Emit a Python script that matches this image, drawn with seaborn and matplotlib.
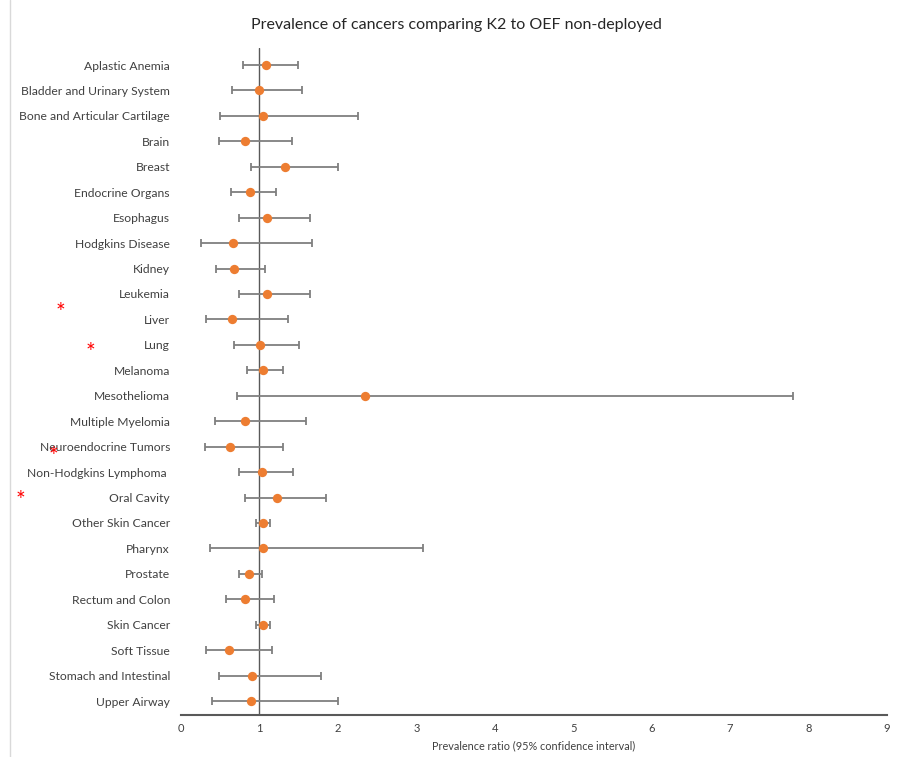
import matplotlib
matplotlib.use("Agg")
import matplotlib.pyplot as plt
import seaborn as sns
import pandas as pd
from matplotlib.lines import Line2D

categories = ["Aplastic Anemia", "Bladder and Urinary System", "Bone and Articular Cartilage",
              "Brain", "Breast", "Endocrine Organs", "Esophagus", "Hodgkins Disease", "Kidney",
              "Leukemia", "Liver", "Lung", "Melanoma", "Mesothelioma", "Multiple Myelomia",
              "Neuroendocrine Tumors", "Non-Hodgkins Lymphoma ", "Oral Cavity", "Other Skin Cancer",
              "Pharynx", "Prostate", "Rectum and Colon", "Skin Cancer", "Soft Tissue",
              "Stomach and Intestinal", "Upper Airway"]
ratio = [1.08, 1.00, 1.05, 0.82, 1.33, 0.88, 1.10, 0.66, 0.68,
         1.10, 0.65, 1.01, 1.05, 2.35, 0.82, 0.62, 1.03, 1.22, 1.05,
         1.05, 0.87, 0.82, 1.05, 0.61, 0.91, 0.89]
lower = [0.79, 0.65, 0.50, 0.48, 0.89, 0.64, 0.74, 0.26, 0.44,
         0.74, 0.32, 0.68, 0.84, 0.71, 0.43, 0.30, 0.74, 0.81, 0.96,
         0.37, 0.74, 0.58, 0.96, 0.32, 0.48, 0.40]
upper = [1.49, 1.54, 2.26, 1.41, 2.00, 1.21, 1.65, 1.67, 1.07,
         1.64, 1.36, 1.50, 1.30, 7.80, 1.59, 1.30, 1.43, 1.85, 1.13,
         3.09, 1.03, 1.18, 1.13, 1.16, 1.79, 2.00]
xticks = [0, 1, 2, 3, 4, 5, 6, 7, 8, 9]

df = pd.DataFrame({"category": categories, "ratio": ratio, "lower": lower, "upper": upper})
df["pos"] = range(len(df))

sns.set_style("white")
plt.rcParams["font.family"] = ["Lato", "DejaVu Sans"]

fig = plt.figure(figsize=(8.97, 7.57), dpi=100)
ax = fig.add_axes([181/897, 1-715/757, (887-181)/897, (715-48)/757])

ax.axvline(1, color="#595959", lw=1.0, zorder=1)
ax.errorbar(df["ratio"], df["pos"],
            xerr=[df["ratio"] - df["lower"], df["upper"] - df["ratio"]],
            fmt="none", ecolor="#7f7f7f", elinewidth=1.3, capsize=3, capthick=1.3, zorder=2)
sns.scatterplot(data=df, x="ratio", y="pos", ax=ax, color="#ED7D31", s=45,
                edgecolor="#ED7D31", linewidth=0, zorder=3, legend=False)

ax.set_ylim(25.55, -0.67)
ax.set_xlim(0, 9)
ax.set_yticks(df["pos"])
ax.set_yticklabels(df["category"], fontsize=8.7, color="#404040")
ax.tick_params(axis="y", length=0, pad=8)
ax.set_xticks(xticks)
ax.set_xticklabels([str(t) for t in xticks], fontsize=8, color="#404040")
ax.tick_params(axis="x", direction="inout", length=6, width=1.2, color="#595959", pad=3)
for s in ["top", "right", "left"]:
    ax.spines[s].set_visible(False)
ax.spines["bottom"].set_color("#595959")
ax.spines["bottom"].set_linewidth(1.5)
ax.set_xlabel("Prevalence ratio (95% confidence interval)", fontsize=7.8, color="#404040", labelpad=4)
ax.set_ylabel("")

fig.text(456/897, 1-25/757, "Prevalence of cancers comparing K2 to OEF non-deployed",
         ha="center", va="center", fontsize=11.5, color="#262626")

for (x, y) in [(60, 313), (90, 353), (53, 457), (20, 501)]:
    fig.text(x/897, 1-y/757, "*", color="red", fontsize=16.5, ha="center", va="center")

fig.add_artist(Line2D([10/897, 10/897], [0, 1], color="#d9d9d9", lw=1))

fig.savefig("out.png", dpi=100)
